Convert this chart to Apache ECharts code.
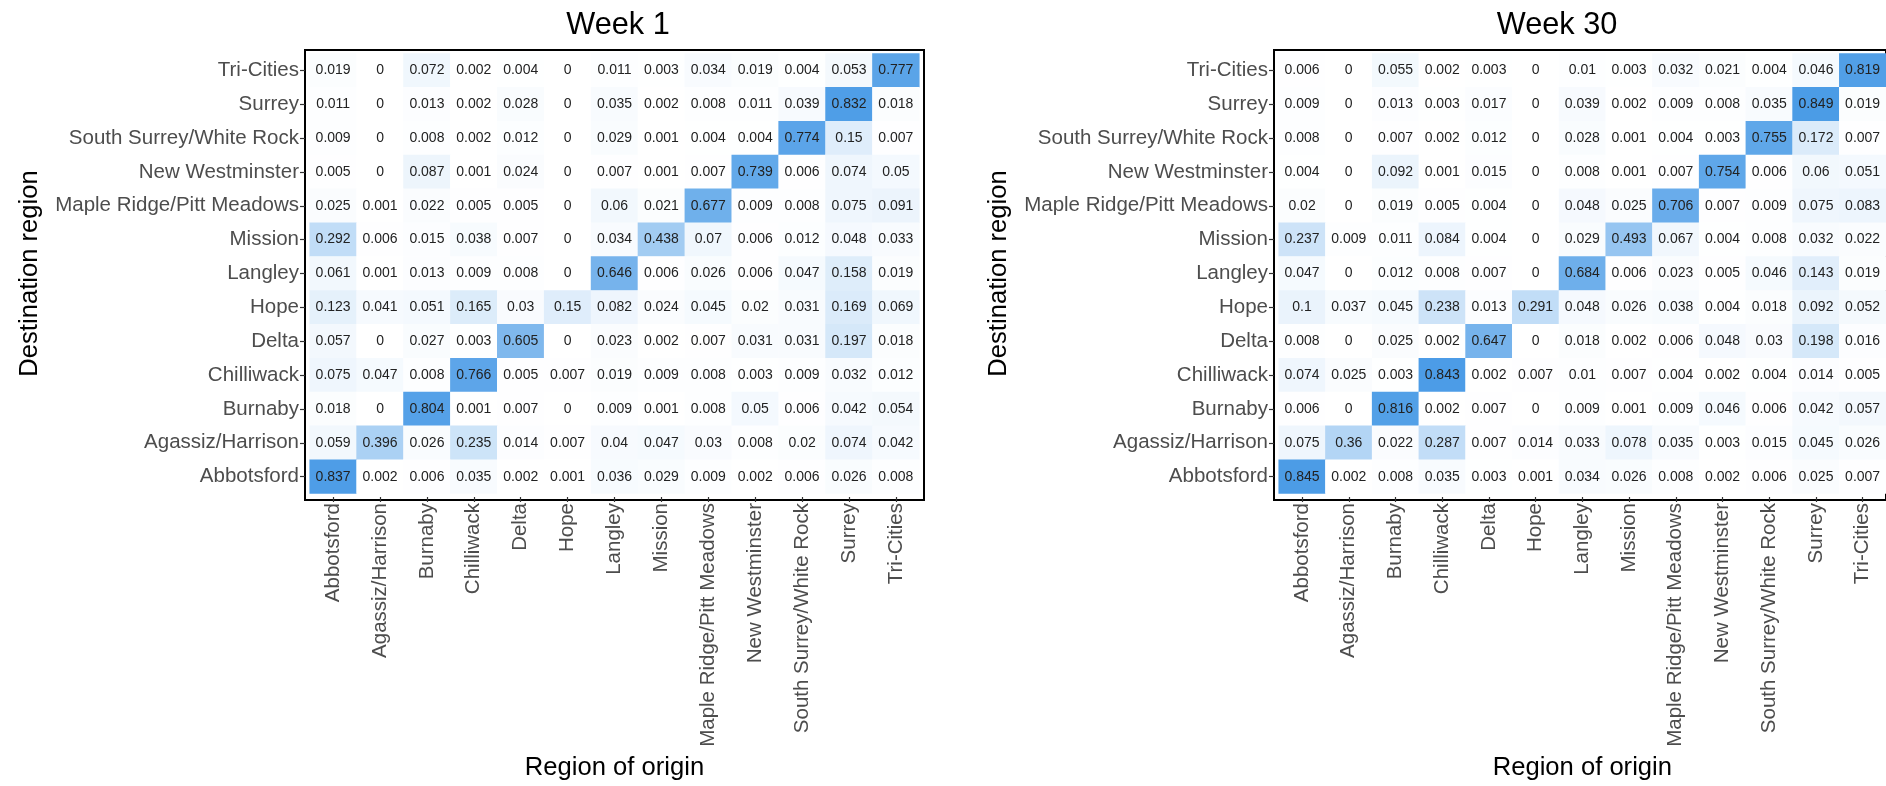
<!DOCTYPE html>
<html>
<head>
<meta charset="utf-8">
<script src="https://cdn.jsdelivr.net/npm/echarts@6/dist/echarts.min.js"></script>
<style>
html,body{margin:0;padding:0;background:#fff;}
#chart{width:1886px;height:786px;}
</style>
</head>
<body>
<div id="chart"></div>
<script>
// Categories (x: region of origin, y: destination region, bottom to top)
const regions = ["Abbotsford","Agassiz/Harrison","Burnaby","Chilliwack","Delta","Hope","Langley","Mission","Maple Ridge/Pitt Meadows","New Westminster","South Surrey/White Rock","Surrey","Tri-Cities"];
// Destination rows, listed top to bottom as in the picture
const destTopDown = ["Tri-Cities","Surrey","South Surrey/White Rock","New Westminster","Maple Ridge/Pitt Meadows","Mission","Langley","Hope","Delta","Chilliwack","Burnaby","Agassiz/Harrison","Abbotsford"];
const titles = ["Week 1","Week 30"];

const week1 = [
  [0.019,0,0.072,0.002,0.004,0,0.011,0.003,0.034,0.019,0.004,0.053,0.777],
  [0.011,0,0.013,0.002,0.028,0,0.035,0.002,0.008,0.011,0.039,0.832,0.018],
  [0.009,0,0.008,0.002,0.012,0,0.029,0.001,0.004,0.004,0.774,0.15,0.007],
  [0.005,0,0.087,0.001,0.024,0,0.007,0.001,0.007,0.739,0.006,0.074,0.05],
  [0.025,0.001,0.022,0.005,0.005,0,0.06,0.021,0.677,0.009,0.008,0.075,0.091],
  [0.292,0.006,0.015,0.038,0.007,0,0.034,0.438,0.07,0.006,0.012,0.048,0.033],
  [0.061,0.001,0.013,0.009,0.008,0,0.646,0.006,0.026,0.006,0.047,0.158,0.019],
  [0.123,0.041,0.051,0.165,0.03,0.15,0.082,0.024,0.045,0.02,0.031,0.169,0.069],
  [0.057,0,0.027,0.003,0.605,0,0.023,0.002,0.007,0.031,0.031,0.197,0.018],
  [0.075,0.047,0.008,0.766,0.005,0.007,0.019,0.009,0.008,0.003,0.009,0.032,0.012],
  [0.018,0,0.804,0.001,0.007,0,0.009,0.001,0.008,0.05,0.006,0.042,0.054],
  [0.059,0.396,0.026,0.235,0.014,0.007,0.04,0.047,0.03,0.008,0.02,0.074,0.042],
  [0.837,0.002,0.006,0.035,0.002,0.001,0.036,0.029,0.009,0.002,0.006,0.026,0.008]
];

const week30 = [
  [0.006,0,0.055,0.002,0.003,0,0.01,0.003,0.032,0.021,0.004,0.046,0.819],
  [0.009,0,0.013,0.003,0.017,0,0.039,0.002,0.009,0.008,0.035,0.849,0.019],
  [0.008,0,0.007,0.002,0.012,0,0.028,0.001,0.004,0.003,0.755,0.172,0.007],
  [0.004,0,0.092,0.001,0.015,0,0.008,0.001,0.007,0.754,0.006,0.06,0.051],
  [0.02,0,0.019,0.005,0.004,0,0.048,0.025,0.706,0.007,0.009,0.075,0.083],
  [0.237,0.009,0.011,0.084,0.004,0,0.029,0.493,0.067,0.004,0.008,0.032,0.022],
  [0.047,0,0.012,0.008,0.007,0,0.684,0.006,0.023,0.005,0.046,0.143,0.019],
  [0.1,0.037,0.045,0.238,0.013,0.291,0.048,0.026,0.038,0.004,0.018,0.092,0.052],
  [0.008,0,0.025,0.002,0.647,0,0.018,0.002,0.006,0.048,0.03,0.198,0.016],
  [0.074,0.025,0.003,0.843,0.002,0.007,0.01,0.007,0.004,0.002,0.004,0.014,0.005],
  [0.006,0,0.816,0.002,0.007,0,0.009,0.001,0.009,0.046,0.006,0.042,0.057],
  [0.075,0.36,0.022,0.287,0.007,0.014,0.033,0.078,0.035,0.003,0.015,0.045,0.026],
  [0.845,0.002,0.008,0.035,0.003,0.001,0.034,0.026,0.008,0.002,0.006,0.025,0.007]
];

function toCells(mat){
  const out = [];
  mat.forEach((row, r) => {
    const yi = regions.indexOf(destTopDown[r]);
    row.forEach((v, c) => out.push([c, yi, v]));
  });
  return out;
}

const FONT = "'Liberation Sans', Arial, Helvetica, sans-serif";
// frame geometry (ggplot-like panel with 0.1-unit padding)
const frames = [{left:305, top:50, width:619, height:450, titleX:613},{left:1274, top:50, width:619, height:450, titleX:1552}];
const padX = frames[0].width / 13.2 * 0.1;
const padY = frames[0].height / 13.2 * 0.1;

const grids = [], xAxes = [], yAxes = [], series = [], titleOpts = [];
frames.forEach((f, i) => {
  // data grid
  grids.push({left: f.left + padX, top: f.top + padY, width: f.width - 2*padX, height: f.height - 2*padY, containLabel:false, show:false});
  xAxes.push({
    type:'category', gridIndex:i, data:regions, position:'bottom', offset:padY,
    axisLine:{show:false}, splitLine:{show:false},
    axisTick:{show:true, alignWithLabel:true, length:5, lineStyle:{color:'#333', width:1.2}},
    axisLabel:{rotate:90, fontSize:20.5, color:'#4d4d4d', fontFamily:FONT, margin:6, interval:0},
    name:'Region of origin', nameLocation:'middle', nameGap:258,
    nameTextStyle:{fontSize:25.6, color:'#000', fontFamily:FONT}
  });
  yAxes.push({
    type:'category', gridIndex:i, data:regions, position:'left', offset:padX,
    axisLine:{show:false}, splitLine:{show:false},
    axisTick:{show:true, alignWithLabel:true, length:5, lineStyle:{color:'#333', width:1.2}},
    axisLabel:{fontSize:20.5, color:'#4d4d4d', fontFamily:FONT, margin:6, interval:0},
    name:'Destination region', nameLocation:'middle', nameGap:262, nameRotate:90,
    nameTextStyle:{fontSize:25.6, color:'#000', fontFamily:FONT}
  });
  series.push({
    type:'heatmap', xAxisIndex:i, yAxisIndex:i, data: toCells(i === 0 ? week1 : week30),
    label:{show:true, fontSize:14, color:'#222', fontFamily:FONT, formatter: p => String(p.value[2])},
    itemStyle:{borderWidth:0},
    emphasis:{disabled:true}
  });
  titleOpts.push({
    text: titles[i], left: f.titleX, top: 5, textAlign:'center',
    textStyle:{fontSize:30.7, fontWeight:'normal', color:'#000', fontFamily:FONT}
  });
});
// frame grids (panel border)
frames.forEach((f, i) => {
  grids.push({left:f.left, top:f.top, width:f.width, height:f.height, show:true, borderColor:'#000', borderWidth:2, backgroundColor:'transparent'});
  xAxes.push({type:'value', gridIndex:2+i, show:false, min:0, max:1});
  yAxes.push({type:'value', gridIndex:2+i, show:false, min:0, max:1});
});

const chart = echarts.init(document.getElementById('chart'), null, {renderer:'canvas'});
chart.setOption({
  animation:false,
  backgroundColor:'#fff',
  title: titleOpts,
  grid: grids,
  xAxis: xAxes,
  yAxis: yAxes,
  visualMap: {type:'continuous', show:false, min:0, max:1, dimension:2, seriesIndex:[0,1],
    inRange:{color:['#ffffff','#2b8ae2']}},
  series: series
});
</script>
</body>
</html>
